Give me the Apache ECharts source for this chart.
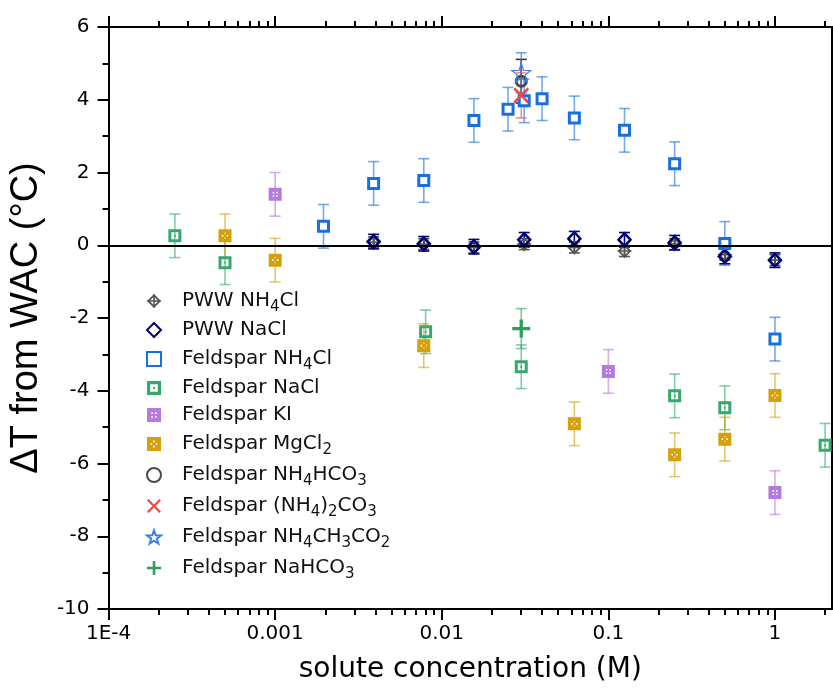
<!DOCTYPE html>
<html><head><meta charset="utf-8">
<script src="https://cdn.jsdelivr.net/npm/echarts@6/dist/echarts.min.js"></script>
<style>html,body{margin:0;padding:0;background:#fff}#c{width:833px;height:689px}</style>
</head><body><div id="c"></div>
<script>
// ---- tick labels ----
const xTickValues = [0.0001, 0.001, 0.01, 0.1, 1];
const xTickLabels = ['1E-4', '0.001', '0.01', '0.1', '1'];
const xAxisMin = 0.0001, xAxisMax = 2.2;
const yAxisMin = -10, yAxisMax = 6, yAxisStep = 2;

// ---- series names ----
const seriesNames = ['PWW NH4Cl', 'PWW NaCl', 'Feldspar NH4Cl', 'Feldspar NaCl', 'Feldspar KI',
  'Feldspar MgCl2', 'Feldspar NH4HCO3', 'Feldspar (NH4)2CO3', 'Feldspar NH4CH3CO2', 'Feldspar NaHCO3'];

// ---- data (x = concentration M, y = ΔT °C, e = error) ----
const pwwNH4Cl_x = [0.0039, 0.0078, 0.0156, 0.03125, 0.0625, 0.125, 0.25, 0.5, 1];
const pwwNH4Cl_y = [0.08, 0.03, -0.06, 0.03, -0.06, -0.16, 0.03, -0.26, -0.41];
const pwwNH4Cl_e = [0.15, 0.15, 0.15, 0.15, 0.15, 0.15, 0.15, 0.15, 0.15];

const pwwNaCl_x = [0.0039, 0.0078, 0.0156, 0.03125, 0.0625, 0.125, 0.25, 0.5, 1];
const pwwNaCl_y = [0.10, 0.04, -0.04, 0.15, 0.18, 0.15, 0.07, -0.31, -0.41];
const pwwNaCl_e = [0.2, 0.2, 0.2, 0.2, 0.2, 0.2, 0.2, 0.2, 0.2];

const fNH4Cl_x = [0.00195, 0.0039, 0.0078, 0.0156, 0.025, 0.03125, 0.04, 0.0625, 0.125, 0.25, 0.5, 1];
const fNH4Cl_y = [0.52, 1.70, 1.78, 3.43, 3.74, 3.97, 4.03, 3.50, 3.16, 2.24, 0.05, -2.58];
const fNH4Cl_e = [0.6, 0.6, 0.6, 0.6, 0.6, 0.6, 0.6, 0.6, 0.6, 0.6, 0.6, 0.6];

const fNaCl_x = [0.00025, 0.0005, 0.008, 0.03, 0.25, 0.5, 2];
const fNaCl_y = [0.26, -0.48, -2.38, -3.34, -4.14, -4.47, -5.50];
const fNaCl_e = [0.6, 0.6, 0.6, 0.6, 0.6, 0.6, 0.6];

const fKI_x = [0.001, 0.1, 1];
const fKI_y = [1.40, -3.47, -6.80];
const fKI_e = [0.6, 0.6, 0.6];

const fMgCl2_x = [0.0005, 0.001, 0.0078, 0.0625, 0.25, 0.5, 1];
const fMgCl2_y = [0.26, -0.41, -2.76, -4.91, -5.76, -5.33, -4.13];
const fMgCl2_e = [0.6, 0.6, 0.6, 0.6, 0.6, 0.6, 0.6];

const fNH4HCO3_x = [0.03];   const fNH4HCO3_y = [4.51];   const fNH4HCO3_e = [0.6];
const fNH42CO3_x = [0.03];   const fNH42CO3_y = [4.12];   const fNH42CO3_e = [0.62];
const fNH4Ac_x = [0.03];     const fNH4Ac_y = [4.74];     const fNH4Ac_e = [0.55];
const fNaHCO3_x = [0.03];    const fNaHCO3_y = [-2.29];   const fNaHCO3_e = [0.55];

// ---- symbol shapes ----
function holes(list) { return list.map(h => 'M' + h[0] + ' ' + h[1] + 'V' + (h[1] + 1.6) + 'H' + (h[0] + 1.6) + 'V' + h[1] + 'Z').join(''); }
const SQ = 'M0 0H13V13H0Z';
const symNaCl = 'path://' + SQ + 'M3 3V10H10V3Z M5.6 5.6H7.4V7.4H5.6Z';
const symKI = 'path://' + SQ + holes([[4, 4], [7.4, 4], [4, 7.4], [7.4, 7.4]]);
const symMg = 'path://' + SQ + holes([[5.7, 3.3], [3.3, 5.7], [8.1, 5.7], [5.7, 8.1]]);
const symPWWcross = 'path://M7 0L14 7L7 14L0 7Z M7 2.6L2.6 7L7 11.4L11.4 7Z M6.2 0H7.8V14H6.2Z M0 6.2H14V7.8H0Z';
const symX = 'path://M0 1.6L1.6 0L7 5.4L12.4 0L14 1.6L8.6 7L14 12.4L12.4 14L7 8.6L1.6 14L0 12.4L5.4 7Z';
const symStar = 'path://M10 0L12.35 6.76L19.51 6.91L13.8 11.24L15.88 18.09L10 14L4.12 18.09L6.2 11.24L0.49 6.91L7.65 6.76Z';
const symPlus = 'path://M5.7 0H8.3V5.7H14V8.3H8.3V14H5.7V8.3H0V5.7H5.7Z';

const L = Math.log10;
function pts(xs, ys, es) { return xs.map((x, i) => [L(x), ys[i], es[i]]); }

const defs = [
  { name: seriesNames[0], d: pts(pwwNH4Cl_x, pwwNH4Cl_y, pwwNH4Cl_e), sym: symPWWcross, size: 14, item: { color: '#555555' }, err: '#555555' },
  { name: seriesNames[1], d: pts(pwwNaCl_x, pwwNaCl_y, pwwNaCl_e), sym: 'diamond', size: [12, 13], item: { color: 'rgba(255,255,255,0)', borderColor: '#00007a', borderWidth: 2.5 }, err: '#00007a' },
  { name: seriesNames[2], d: pts(fNH4Cl_x, fNH4Cl_y, fNH4Cl_e), sym: 'rect', size: 10, item: { color: '#ffffff', borderColor: '#1a6fdf', borderWidth: 3 }, err: 'rgba(26,111,223,0.6)' },
  { name: seriesNames[3], d: pts(fNaCl_x, fNaCl_y, fNaCl_e), sym: symNaCl, size: 13, item: { color: '#36a86c' }, err: 'rgba(54,168,108,0.6)' },
  { name: seriesNames[4], d: pts(fKI_x, fKI_y, fKI_e), sym: symKI, size: 13, item: { color: '#b47ae0' }, err: 'rgba(180,122,224,0.6)' },
  { name: seriesNames[5], d: pts(fMgCl2_x, fMgCl2_y, fMgCl2_e), sym: symMg, size: 13, item: { color: '#d4a00e' }, err: 'rgba(212,160,14,0.6)' },
  { name: seriesNames[6], d: pts(fNH4HCO3_x, fNH4HCO3_y, fNH4HCO3_e), sym: 'circle', size: 10, item: { color: 'rgba(255,255,255,0)', borderColor: '#4a4a4a', borderWidth: 3 }, err: '#333333' },
  { name: seriesNames[7], d: pts(fNH42CO3_x, fNH42CO3_y, fNH42CO3_e), sym: symX, size: 16, item: { color: '#f04848' }, err: 'rgba(240,72,72,0.6)' },
  { name: seriesNames[8], d: pts(fNH4Ac_x, fNH4Ac_y, fNH4Ac_e), sym: symStar, size: 19, item: { color: 'rgba(255,255,255,0)', borderColor: '#3b7fe8', borderWidth: 1.2 }, err: 'rgba(59,127,232,0.7)' },
  { name: seriesNames[9], d: pts(fNaHCO3_x, fNaHCO3_y, fNaHCO3_e), sym: symPlus, size: 18, item: { color: '#2ea05a' }, err: 'rgba(46,160,90,0.6)' }
];

function errRender(color) {
  return function (params, api) {
    const x = api.value(0), y = api.value(1), e = api.value(2);
    const t = api.coord([x, y + e]), b = api.coord([x, y - e]);
    const cw = 5.5;
    const st = { stroke: color, lineWidth: 1.6 };
    return {
      type: 'group', children: [
        { type: 'line', shape: { x1: t[0], y1: t[1], x2: b[0], y2: b[1] }, style: st },
        { type: 'line', shape: { x1: t[0] - cw, y1: t[1], x2: t[0] + cw, y2: t[1] }, style: st },
        { type: 'line', shape: { x1: b[0] - cw, y1: b[1], x2: b[0] + cw, y2: b[1] }, style: st }
      ]
    };
  };
}

const series = [];
defs.forEach((s, i) => {
  series.push({
    type: 'custom', name: 'err' + i, data: s.d, encode: { x: 0, y: 1 }, z: 2,
    renderItem: errRender(s.err), silent: true
  });
});
series[0].markLine = {
  symbol: 'none', silent: true, animation: false, label: { show: false },
  lineStyle: { color: '#000', width: 2, type: 'solid' }, data: [{ yAxis: 0 }]
};
defs.forEach((s) => {
  series.push({
    type: 'scatter', name: s.name, data: s.d, encode: { x: 0, y: 1 }, z: 3,
    symbol: s.sym, symbolSize: s.size, itemStyle: Object.assign({ opacity: 1 }, s.item)
  });
});

const majorVals = xTickValues.map(L);
const minorVals = [];
for (let p = -4; p <= 0; p++) for (let k = 2; k <= 9; k++) {
  const v = k * Math.pow(10, p);
  if (v <= xAxisMax) minorVals.push(L(v));
}
const xMin = L(xAxisMin), xMax = L(xAxisMax);
const FONT = 'DejaVu Sans';

function xAx(pos, minor, labels) {
  return {
    type: 'value', position: pos, min: xMin, max: xMax, scale: true,
    axisLine: { show: !minor, onZero: false, lineStyle: { color: '#000', width: 2 } },
    axisTick: { show: true, inside: false, length: minor ? 6 : 11, customValues: minor ? minorVals : majorVals, lineStyle: { color: '#000', width: 2 } },
    axisLabel: labels ? {
      show: true, customValues: majorVals, margin: 15, color: '#000', fontFamily: FONT, fontSize: 20,
      formatter: v => { const i = majorVals.findIndex(m => Math.abs(m - v) < 1e-9); return i >= 0 ? xTickLabels[i] : ''; }
    } : { show: false },
    splitLine: { show: false }
  };
}
const xAxes = [xAx('bottom', false, true), xAx('bottom', true, false), xAx('top', false, false), xAx('top', true, false)];
Object.assign(xAxes[0], {
  name: 'solute concentration (M)', nameLocation: 'middle', nameGap: 47,
  nameTextStyle: { color: '#000', fontFamily: FONT, fontSize: 28 }
});

const option = {
  animation: false,
  backgroundColor: '#fff',
  grid: { left: 107, right: 1, top: 27, bottom: 78, containLabel: false },
  xAxis: xAxes,
  yAxis: [{
    type: 'value', position: 'left', min: yAxisMin, max: yAxisMax, interval: yAxisStep,
    axisLine: { show: true, onZero: false, lineStyle: { color: '#000', width: 2 } },
    axisTick: { show: true, length: 11, lineStyle: { color: '#000', width: 2 } },
    minorTick: { show: true, splitNumber: 2, length: 6, lineStyle: { color: '#000', width: 2 } },
    axisLabel: { margin: 19, color: '#000', fontFamily: FONT, fontSize: 20 },
    splitLine: { show: false },
    name: 'ΔT from WAC (°C)', nameLocation: 'middle', nameGap: 58, nameRotate: 90,
    nameTextStyle: { color: '#000', fontFamily: 'Liberation Sans', fontSize: 38 }
  }, {
    type: 'value', position: 'right', min: yAxisMin, max: yAxisMax, interval: yAxisStep,
    axisLine: { show: true, onZero: false, lineStyle: { color: '#000', width: 2 } },
    axisTick: { show: false }, axisLabel: { show: false }, splitLine: { show: false }
  }],
  legend: {
    orient: 'vertical', left: 141, top: 282, itemWidth: 14, itemHeight: 14, itemGap: 3,
    selectedMode: false, data: seriesNames,
    formatter: n => n.replace(/([A-Za-z)])(\d)/g, '$1{s|$2}'),
    textStyle: {
      fontFamily: FONT, fontSize: 20, color: '#111', lineHeight: 24, padding: [0, 0, 0, 16],
      rich: { s: { fontFamily: FONT, fontSize: 15, lineHeight: 15, padding: [13, 0, 0, 0], color: '#111' } }
    }
  },
  series: series
};
const chart = echarts.init(document.getElementById('c'), null, { renderer: 'canvas' });
chart.setOption(option);
</script>
</body></html>
